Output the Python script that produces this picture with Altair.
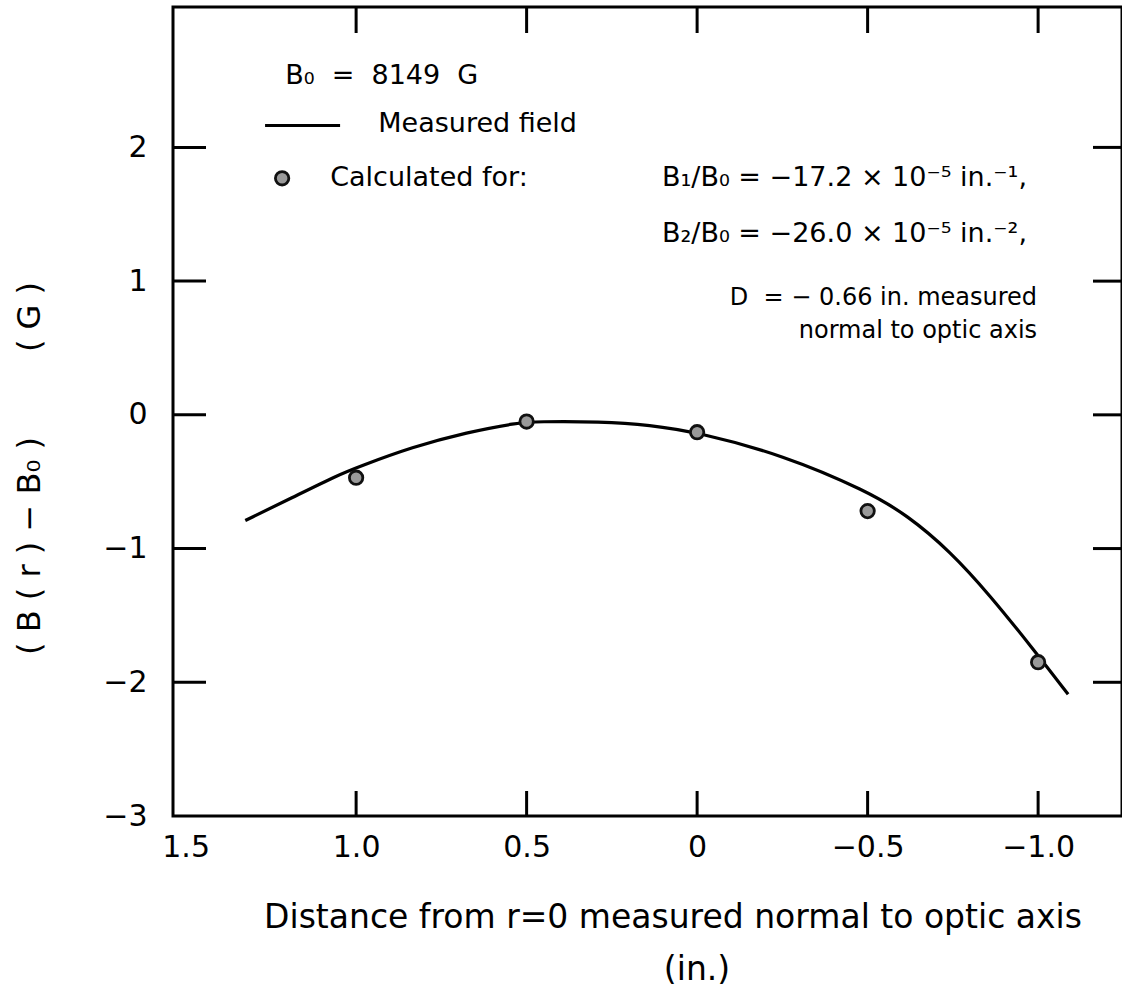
import altair as alt
import pandas as pd

# Measured field: B(r) - B0 (gauss) against distance r (in.)
curve_r = [1.325, 1.188, 1.053, 0.994, 0.835, 0.674, 0.528, 0.47, 0.284, 0.138,
           0.0, -0.252, -0.498, -0.616, -0.742, -0.859, -0.985, -1.088]
curve_db = [-0.79, -0.62, -0.45, -0.39, -0.24, -0.13, -0.06, -0.05, -0.05, -0.075,
            -0.13, -0.30, -0.57, -0.75, -1.02, -1.35, -1.75, -2.09]

# Field calculated from B1/B0, B2/B0 and D
calc_r = [1.0, 0.5, 0.0, -0.5, -1.0]
calc_db = [-0.47, -0.05, -0.13, -0.72, -1.85]

x_ticks = [1.0, 0.5, 0.0, -0.5, -1.0]
x_labels = [1.5, 1.0, 0.5, 0.0, -0.5, -1.0]
y_ticks = [2, 1, 0, -1, -2]
y_labels = [2, 1, 0, -1, -2, -3]

NB = "\u00a0"
# Legend / parameter block, placed in data coordinates
note_x = [1.208, 0.935, 1.076, 0.103, 0.103]
note_y = [2.537, 2.172, 1.769, 1.769, 1.351]
note_text = [
    f"B₀{NB}{NB}={NB}{NB}8149{NB}{NB}G",
    "Measured field",
    "Calculated for:",
    "B₁/B₀ = −17.2 × 10⁻⁵ in.⁻¹,",
    "B₂/B₀ = −26.0 × 10⁻⁵ in.⁻²,",
]
note_right_x = [-0.997, -0.997]
note_right_y = [0.873, 0.627]
note_right_text = [f"D{NB}{NB}={NB}−{NB}0.66 in. measured", "normal to optic axis"]
key_line = {"x1": [1.267], "x2": [1.047], "y": [2.164]}
key_point = {"x": [1.217], "y": [1.769]}

FONT = "DejaVu Sans"
W, H = 949, 809
xs = alt.Scale(domain=[1.537, -1.246], nice=False, zero=False)
ys = alt.Scale(domain=[-3.0, 3.05], nice=False, zero=False)

x_axis = alt.Axis(
    values=x_labels, ticks=False, tickSize=0, domain=False, grid=False,
    labelFontSize=30, labelFont=FONT, labelColor="black", labelPadding=16,
    labelExpr="datum.value == 0 ? '0' : (datum.value < 0 ? '−' : '') + format(abs(datum.value), '.1f')",
    title=None,
)
y_axis = alt.Axis(
    values=y_labels, ticks=False, tickSize=0, domain=False, grid=False,
    labelFontSize=30, labelFont=FONT, labelColor="black", labelPadding=26,
    labelExpr="datum.value < 0 ? '−' + abs(datum.value) : '' + datum.value",
    title=None,
)


def X(field):
    return alt.X(field, type="quantitative", scale=xs, axis=x_axis)


def Y(field):
    return alt.Y(field, type="quantitative", scale=ys, axis=y_axis)


curve_df = pd.DataFrame({"r": curve_r, "db": curve_db})
calc_df = pd.DataFrame({"r": calc_r, "db": calc_db})

curve = alt.Chart(curve_df).mark_line(
    color="black", strokeWidth=3.2, interpolate="basis"
).encode(x=X("r"), y=Y("db"), order="r:Q")

marker = dict(shape="circle", filled=True, size=180, fill="#9a9a9a",
              stroke="#111111", strokeWidth=2.8, opacity=1)
points = alt.Chart(calc_df).mark_point(**marker).encode(x=X("r"), y=Y("db"))

# Inward ticks on all four sides of the frame
ty = pd.DataFrame({"v": y_ticks})
tx = pd.DataFrame({"v": x_ticks})
left_ticks = alt.Chart(ty).mark_rule(color="black", strokeWidth=3).encode(
    y=Y("v"), x=alt.value(0), x2=alt.value(33))
right_ticks = alt.Chart(ty).mark_rule(color="black", strokeWidth=3).encode(
    y=Y("v"), x=alt.value(W - 29), x2=alt.value(W))
bottom_ticks = alt.Chart(tx).mark_rule(color="black", strokeWidth=3).encode(
    x=X("v"), y=alt.value(H - 25), y2=alt.value(H))
top_ticks = alt.Chart(tx).mark_rule(color="black", strokeWidth=3).encode(
    x=X("v"), y=alt.value(0), y2=alt.value(26))

notes = alt.Chart(pd.DataFrame({"x": note_x, "y": note_y, "t": note_text})).mark_text(
    align="left", baseline="middle", font=FONT, fontSize=27, color="black"
).encode(x=X("x"), y=Y("y"), text="t:N")

notes_right = alt.Chart(pd.DataFrame({"x": note_right_x, "y": note_right_y, "t": note_right_text})).mark_text(
    align="right", baseline="middle", font=FONT, fontSize=24, color="black"
).encode(x=X("x"), y=Y("y"), text="t:N")

key_l = alt.Chart(pd.DataFrame(key_line)).mark_rule(color="black", strokeWidth=3.2).encode(
    x=X("x1"), x2="x2:Q", y=Y("y"))

key_p = alt.Chart(pd.DataFrame(key_point)).mark_point(**marker).encode(x=X("x"), y=Y("y"))

# Axis titles
x_title = alt.Chart(pd.DataFrame({"t": ["Distance from r=0 measured normal to optic axis"]})).mark_text(
    align="center", baseline="middle", font=FONT, fontSize=33, color="black"
).encode(x=alt.value(500), y=alt.value(911), text="t:N")
x_unit = alt.Chart(pd.DataFrame({"t": ["(in.)"]})).mark_text(
    align="center", baseline="middle", font=FONT, fontSize=33, color="black"
).encode(x=alt.value(524), y=alt.value(963), text="t:N")
y_title = alt.Chart(pd.DataFrame({"t": ["( B ( r ) − B₀ )"]})).mark_text(
    align="center", baseline="middle", font=FONT, fontSize=32, color="black", angle=270
).encode(x=alt.value(-143), y=alt.value(539), text="t:N")
y_unit = alt.Chart(pd.DataFrame({"t": ["( G )"]})).mark_text(
    align="center", baseline="middle", font=FONT, fontSize=32, color="black", angle=270
).encode(x=alt.value(-143), y=alt.value(310), text="t:N")

chart = alt.layer(
    curve, points, left_ticks, right_ticks, bottom_ticks, top_ticks,
    notes, notes_right, key_l, key_p, x_title, x_unit, y_title, y_unit,
).properties(
    width=W, height=H,
    padding={"left": 173, "top": 7, "right": 0, "bottom": 179},
    autosize=alt.AutoSizeParams(type="none"),
    background="white",
).configure_view(
    stroke="black", strokeWidth=3,
)

chart.save("out.html", embed_options={"renderer": "svg", "actions": False})
